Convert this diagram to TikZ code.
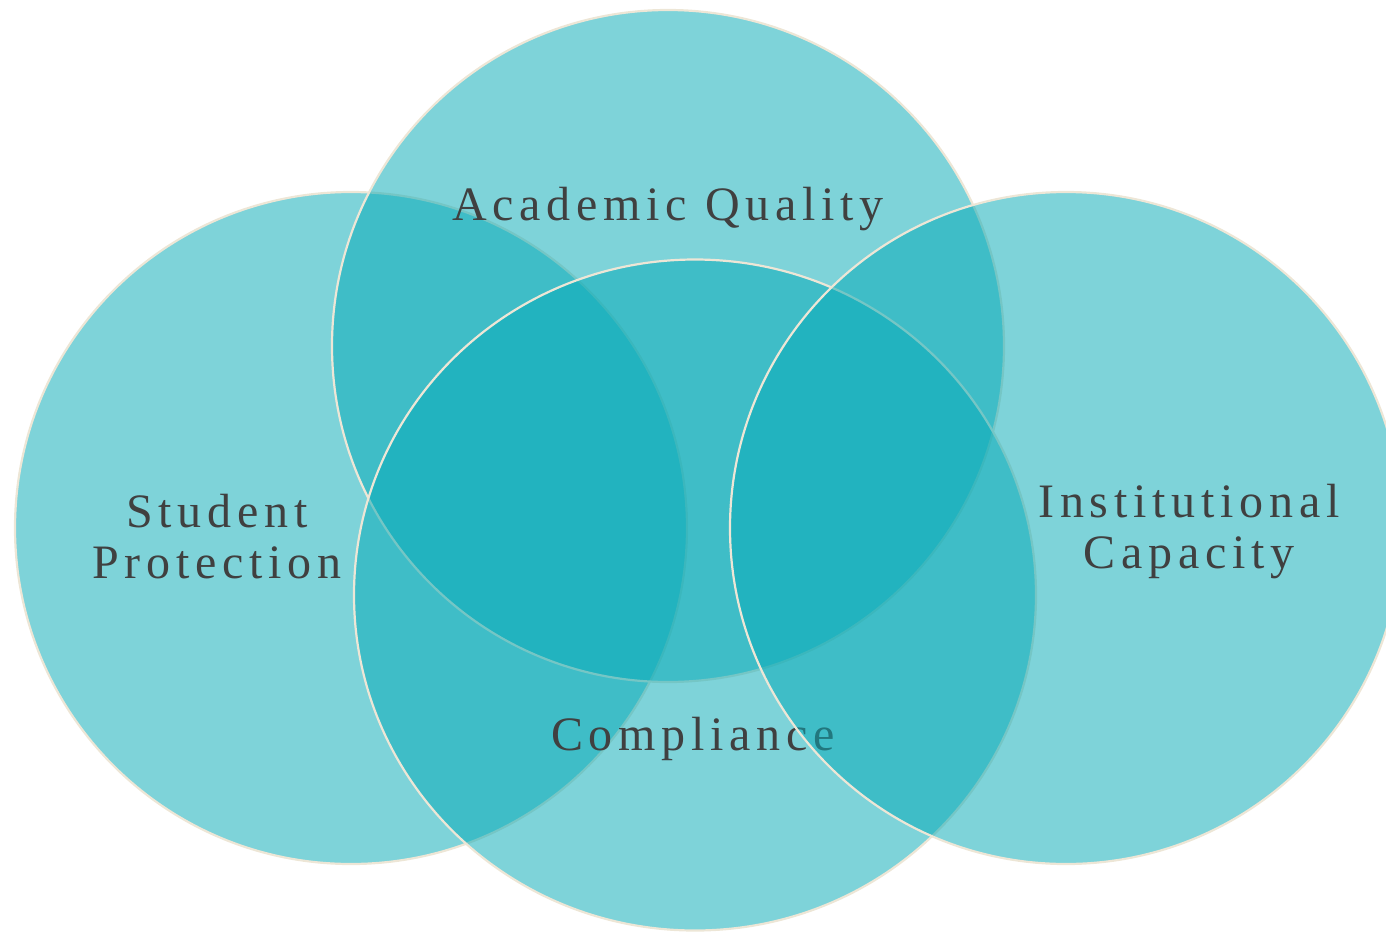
\documentclass[tikz,border=0pt]{standalone}
\usepackage{fontspec}
\usetikzlibrary{shapes.geometric}
\setmainfont{Liberation Serif}
\newfontfamily\lblfont[LetterSpace=12]{Liberation Serif}
\definecolor{tealfill}{RGB}{7,170,183}
\definecolor{rimcol}{RGB}{237,230,214}
\definecolor{txtcol}{RGB}{64,64,64}
\begin{document}
\begin{tikzpicture}[x=1pt,y=-1pt,
  venn/.style={ellipse,minimum width=672pt,minimum height=672pt,inner sep=0pt,fill=tealfill,fill opacity=0.52,draw=rimcol,line width=2.2pt,draw opacity=1},
  lbl/.style={text=txtcol,font=\lblfont\fontsize{48}{51}\selectfont,align=center,inner sep=0pt,text opacity=1}]
\useasboundingbox (0,0) rectangle (1386,932);
\node[venn] (sp) at (351,528) {};
\node[lbl] (tsp) at (217,537) {Student\\Protection};
\node[venn] (aq) at (668,346) {};
\node[lbl,anchor=base] (taq) at (668,220) {Academic Quality};
\node[venn,minimum width=682pt,minimum height=671pt] (co) at (695,595) {};
\node[lbl,anchor=base] (tco) at (693,750) {Compliance};
\node[venn] (ic) at (1066,528) {};
\node[lbl] (tic) at (1189,532) {Institutional\\Capacity};
\end{tikzpicture}
\end{document}
